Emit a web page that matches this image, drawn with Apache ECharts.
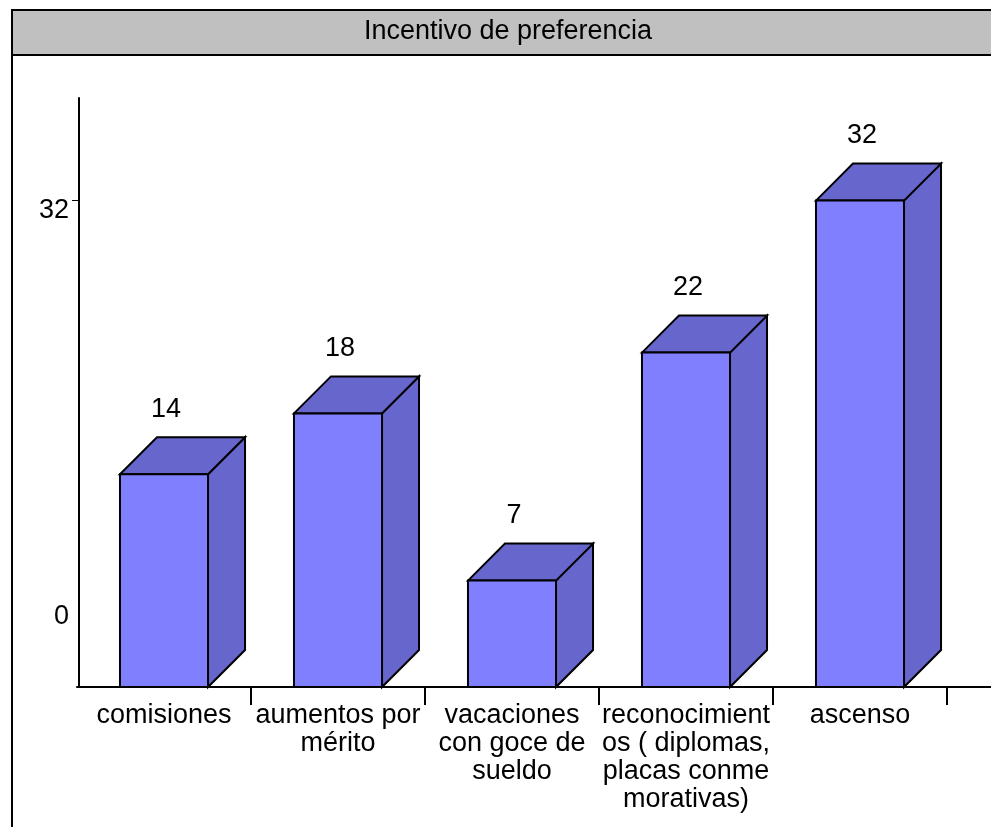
<!DOCTYPE html>
<html>
<head>
<meta charset="utf-8">
<script src="https://cdn.jsdelivr.net/npm/echarts@6/dist/echarts.min.js"></script>
<style>html,body{margin:0;padding:0;background:#fff;}#c{width:991px;height:827px;}</style>
</head>
<body>
<div id="c"></div>
<script>
const titleText = 'Incentivo de preferencia';
const categories = ['comisiones', 'aumentos por\nmérito', 'vacaciones\ncon goce de\nsueldo', 'reconocimient\nos ( diplomas,\nplacas conme\nmorativas)', 'ascenso'];
const values = [14, 18, 7, 22, 32];
const yLabelValues = [0, 32];

const FONT = '"Liberation Sans", Arial, sans-serif';
const FS = 27;
const DEPTH = 37;

const chart = echarts.init(document.getElementById('c'), null, {renderer: 'canvas'});

function renderItem(params, api) {
  const idx = api.value(0);
  const val = api.value(1);
  const top = api.coord([idx, val]);
  const base = api.coord([idx, 0]);
  const w = api.size([1, 0])[0] * 0.506;
  const x = top[0] - w / 2;
  const y = top[1];
  const b = base[1];
  const d = DEPTH;
  const stroke = {stroke: '#000', lineWidth: 2, lineJoin: 'miter'};
  return {
    type: 'group',
    children: [
      {type: 'polygon', shape: {points: [[x + w, y], [x + w + d, y - d], [x + w + d, b - d], [x + w, b]]},
       style: Object.assign({fill: '#6666cc'}, stroke)},
      {type: 'polygon', shape: {points: [[x, y], [x + d, y - d], [x + w + d, y - d], [x + w, y]]},
       style: Object.assign({fill: '#6666cc'}, stroke)},
      {type: 'rect', shape: {x: x, y: y, width: w, height: b - y},
       style: Object.assign({fill: '#8080ff'}, stroke)},
      {type: 'text', x: top[0] + 2, y: y - d - 28,
       style: {text: String(val), fill: '#000', font: FS + 'px ' + FONT, align: 'center', verticalAlign: 'middle'}}
    ]
  };
}

const option = {
  animation: false,
  backgroundColor: '#fff',
  grid: {left: 77, width: 870, top: 98, bottom: 140, containLabel: false},
  xAxis: {
    type: 'category',
    data: categories,
    boundaryGap: true,
    axisLine: {show: true, lineStyle: {color: '#000', width: 2}},
    axisTick: {show: true, length: 18, interval: function (i) { return i !== 0; }, lineStyle: {color: '#000', width: 2}},
    axisLabel: {interval: 0, color: '#000', fontFamily: FONT, fontSize: FS, lineHeight: 28, margin: 15, align: 'center'},
    splitLine: {show: false}
  },
  yAxis: {
    type: 'value',
    min: 0,
    max: 38.75,
    offset: -2,
    axisLine: {show: true, onZero: false, lineStyle: {color: '#000', width: 2}},
    axisTick: {show: true, length: 7, customValues: [32], lineStyle: {color: '#000', width: 1}},
    axisLabel: {
      customValues: yLabelValues,
      color: '#000', fontFamily: FONT, fontSize: FS, margin: 10,
      formatter: function (v) { return v === 0 ? '{z|0}' : '{t|' + v + '}'; },
      rich: {
        z: {fontFamily: FONT, fontSize: FS, color: '#000', padding: [0, 0, 140, 0]},
        t: {fontFamily: FONT, fontSize: FS, color: '#000', padding: [20, 0, 0, 0]}
      }
    },
    splitLine: {show: false}
  },
  graphic: [
    {type: 'line', shape: {x1: 12, y1: 10, x2: 12, y2: 827}, style: {stroke: '#000', lineWidth: 2}, z: 100},
    {type: 'rect', shape: {x: 12, y: 10, width: 1000, height: 45}, style: {fill: '#c0c0c0', stroke: '#000', lineWidth: 2}, z: 99},
    {type: 'text', x: 508, y: 32, style: {text: titleText, font: FS + 'px ' + FONT, fill: '#000', align: 'center', verticalAlign: 'middle'}, z: 101},
    {type: 'line', shape: {x1: 946, y1: 687, x2: 991, y2: 687}, style: {stroke: '#000', lineWidth: 2}, z: 100}
  ],
  series: [{
    type: 'custom',
    renderItem: renderItem,
    clip: false,
    data: values.map((v, i) => [i, v]),
    encode: {x: 0, y: 1},
    z: 5
  }]
};
chart.setOption(option);
</script>
</body>
</html>
